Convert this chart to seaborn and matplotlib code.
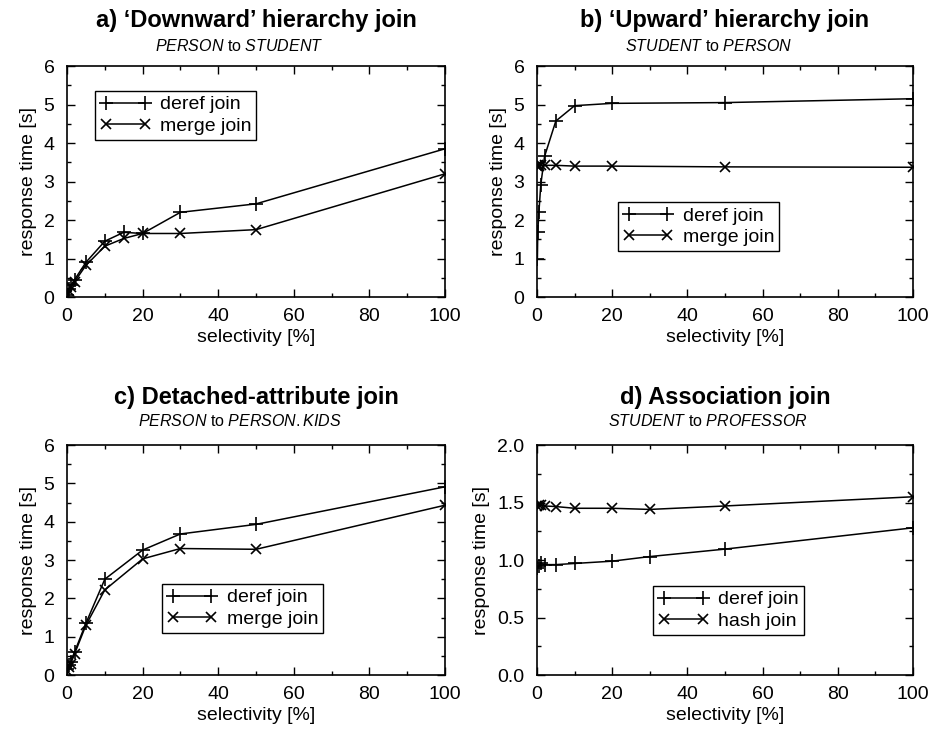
import numpy as np
import pandas as pd
import matplotlib
matplotlib.use('Agg')
import matplotlib.pyplot as plt
from matplotlib.ticker import MultipleLocator, FormatStrFormatter
import seaborn as sns

# panel a) 'Downward' hierarchy join
a_sel = [0.1, 0.5, 1, 2, 5, 10, 15, 20, 30, 50, 100]
a_deref = [0.05, 0.2, 0.3, 0.45, 0.9, 1.45, 1.68, 1.65, 2.2, 2.42, 3.85]
a_merge = [0.05, 0.15, 0.25, 0.4, 0.82, 1.32, 1.52, 1.65, 1.65, 1.75, 3.2]

# panel b) 'Upward' hierarchy join
b_sel = [0.1, 0.2, 0.5, 1, 2, 5, 10, 20, 50, 100]
b_deref = [1.0, 1.7, 2.2, 2.92, 3.65, 4.57, 4.97, 5.03, 5.05, 5.15]
b_merge = [3.4, 3.42, 3.4, 3.42, 3.42, 3.42, 3.4, 3.4, 3.38, 3.37]

# panel c) Detached-attribute join
c_sel = [0.1, 0.5, 1, 2, 5, 10, 20, 30, 50, 100]
c_deref = [0.15, 0.25, 0.35, 0.6, 1.35, 2.5, 3.26, 3.68, 3.93, 4.91]
c_merge = [0.1, 0.2, 0.3, 0.55, 1.3, 2.22, 3.03, 3.3, 3.28, 4.43]

# panel d) Association join
d_sel = [0.1, 0.5, 1, 2, 5, 10, 20, 30, 50, 100]
d_deref = [0.93, 0.95, 0.97, 0.96, 0.96, 0.97, 0.99, 1.03, 1.095, 1.28]
d_hash = [1.47, 1.48, 1.48, 1.47, 1.465, 1.45, 1.45, 1.44, 1.47, 1.55]

panels = [
    ("a) \u2018Downward\u2019 hierarchy join", ("PERSON", "STUDENT"),
     a_sel, [("deref join", a_deref, '+'), ("merge join", a_merge, 'x')],
     6, (0.074, 0.892)),
    ("b) \u2018Upward\u2019 hierarchy join", ("STUDENT", "PERSON"),
     b_sel, [("deref join", b_deref, '+'), ("merge join", b_merge, 'x')],
     6, (0.215, 0.411)),
    ("c) Detached-attribute join", ("PERSON", "PERSON.KIDS"),
     c_sel, [("deref join", c_deref, '+'), ("merge join", c_merge, 'x')],
     6, (0.251, 0.396)),
    ("d) Association join", ("STUDENT", "PROFESSOR"),
     d_sel, [("deref join", d_deref, '+'), ("hash join", d_hash, 'x')],
     2, (0.309, 0.387)),
]

sns.set_style('ticks')
plt.rcParams['font.family'] = ['Liberation Sans', 'DejaVu Sans']
plt.rcParams['mathtext.fontset'] = 'custom'
plt.rcParams['mathtext.it'] = 'Liberation Sans:italic'
plt.rcParams['mathtext.rm'] = 'Liberation Sans'
for key in ['text.color', 'axes.labelcolor', 'xtick.color', 'ytick.color']:
    plt.rcParams[key] = 'black'

fig = plt.figure(figsize=(9.32, 7.31), dpi=100)
boxes = [
    [0.0719, 0.5937, 0.4056, 0.3160],
    [0.5762, 0.5937, 0.4034, 0.3160],
    [0.0719, 0.0766, 0.4056, 0.3146],
    [0.5762, 0.0766, 0.4034, 0.3146],
]
# title / subtitle offsets above the axes (points), per row
offsets = [(33, 14.4), (33, 14.4), (34.5, 17.5), (34.5, 17.5)]
marker_size = {'+': 9.5, 'x': 7.5}

for box, off, (title, (src, dst), sel, series, ymax, leg_pos) in zip(boxes, offsets, panels):
    ax = fig.add_axes(box)
    for name, vals, mk in series:
        df = pd.DataFrame({'sel': sel, 'time': vals})
        sns.lineplot(data=df, x='sel', y='time', ax=ax, color='black',
                     marker=mk, markersize=marker_size[mk], mew=1.2, mec='black',
                     linewidth=1.1, label=name, sort=False, errorbar=None)
    ax.set_xlim(0, 100)
    ax.set_ylim(0, ymax)
    ax.xaxis.set_major_locator(MultipleLocator(20))
    ax.xaxis.set_minor_locator(MultipleLocator(10))
    if ymax == 2:
        ax.yaxis.set_major_locator(MultipleLocator(0.5))
        ax.yaxis.set_minor_locator(MultipleLocator(0.25))
        ax.yaxis.set_major_formatter(FormatStrFormatter('%.1f'))
    else:
        ax.yaxis.set_major_locator(MultipleLocator(1))
        ax.yaxis.set_minor_locator(MultipleLocator(0.5))
    ax.tick_params(which='both', direction='in', top=True, right=True,
                   labelsize=14, width=1, colors='black')
    ax.tick_params(which='major', length=6)
    ax.tick_params(which='minor', length=3)
    ax.tick_params(axis='x', which='major', pad=8)
    ax.tick_params(axis='y', which='major', pad=9)
    for sp in ax.spines.values():
        sp.set_linewidth(1.2)
        sp.set_color('black')
    ax.set_xlabel('selectivity [%]', fontsize=14, labelpad=3)
    ax.set_ylabel('response time [s]', fontsize=14, labelpad=5)

    ax.annotate(title, xy=(0.5, 1), xycoords='axes fraction',
                xytext=(0, off[0]), textcoords='offset points',
                ha='center', va='center', fontsize=17, fontweight='bold')
    ax.annotate(f'$\\mathit{{{src}}}$ to $\\mathit{{{dst}}}$',
                xy=(0.5, 1), xycoords='axes fraction',
                xytext=(-12, off[1]), textcoords='offset points',
                ha='center', va='center', fontsize=11.5)

    leg = ax.legend(loc='upper left', bbox_to_anchor=leg_pos,
                    borderaxespad=0, fontsize=14, handlelength=2.6,
                    numpoints=2, fancybox=False, framealpha=1,
                    edgecolor='black', borderpad=0.25, labelspacing=0.2,
                    handletextpad=0.5)
    leg.get_frame().set_linewidth(1.0)

fig.savefig('out.png', dpi=100)
